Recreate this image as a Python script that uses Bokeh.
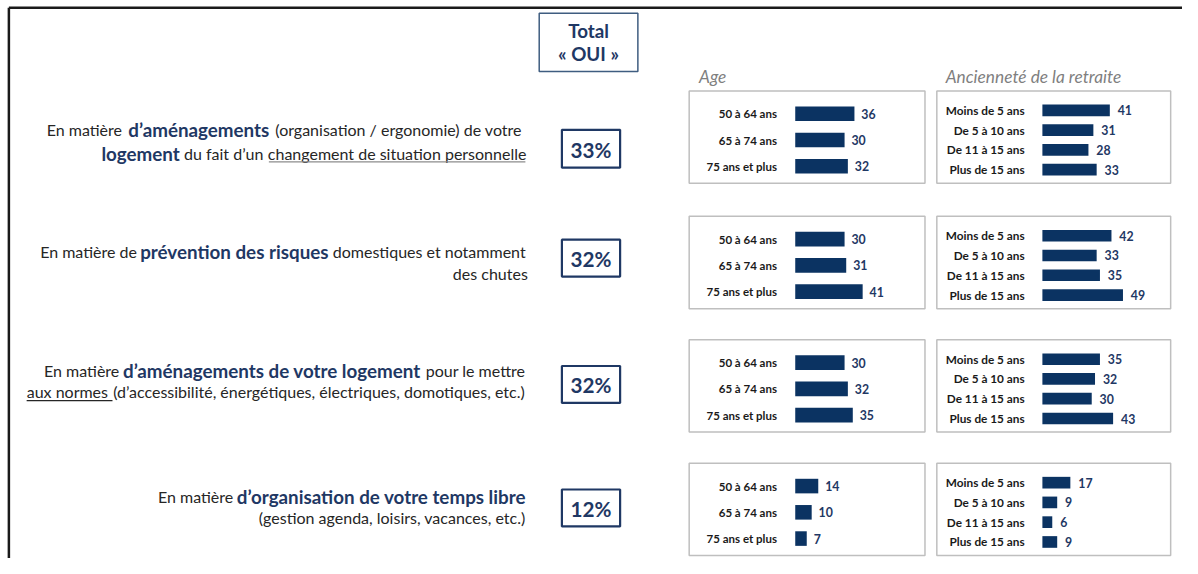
from bokeh.plotting import figure
from bokeh.models import Range1d, ColumnDataSource
from bokeh.core.properties import value
from bokeh.embed import file_html
from bokeh.resources import INLINE

# ---------------- data ----------------
age_groups = ["50 à 64 ans", "65 à 74 ans", "75 ans et plus"]
retirement_groups = ["Moins de 5 ans", "De 5 à 10 ans", "De 11 à 15 ans", "Plus de 15 ans"]
total_oui = [33, 32, 32, 12]
age_row1 = [36, 30, 32]
age_row2 = [30, 31, 41]
age_row3 = [30, 32, 35]
age_row4 = [14, 10, 7]
ret_row1 = [41, 31, 28, 33]
ret_row2 = [42, 33, 35, 49]
ret_row3 = [35, 32, 30, 43]
ret_row4 = [17, 9, 6, 9]
age_values = [age_row1, age_row2, age_row3, age_row4]
ret_values = [ret_row1, ret_row2, ret_row3, ret_row4]

# question texts: lines of (segment, emphasised?, underline style)
questions = [
    [[("En matière", 0, 0), ("d’aménagements", 1, 0), ("(organisation / ergonomie) de votre", 0, 0)],
     [("logement", 1, 0), ("du fait d’un", 0, 0), ("changement de situation personnelle", 0, 1)]],
    [[("En matière de", 0, 0), ("prévention des risques", 1, 0), ("domestiques et notamment", 0, 0)],
     [("des chutes", 0, 0)]],
    [[("En matière", 0, 0), ("d’aménagements de votre logement", 1, 0), ("pour le mettre", 0, 0)],
     [("aux normes", 0, 2), ("(d’accessibilité, énergétiques, électriques, domotiques, etc.)", 0, 0)]],
    [[("En matière", 0, 0), ("d’organisation de votre temps libre", 1, 0)],
     [("(gestion agenda, loisirs, vacances, etc.)", 0, 0)]],
]

# ---------------- layout (reference pixels) ----------------
seg_span = [
    [[(49, 121), (131, 271), (275, 532)], [(104, 180), (184.5, 268), (272, 532)]],
    [[(41, 137.5), (142, 332), (337, 532)], [(461, 532)]],
    [[(45.5, 119), (125, 425), (431, 532)], [(26.5, 109, 113.5), (113.5, 532)]],
    [[(160, 235.5), (240, 532)], [(262, 532)]],
]
line_y = [[133, 157], [258, 281], [381, 402.5], [510, 532]]
pct_box_y = [(133, 172), (246, 284), (376, 414), (503, 541)]
row_tops = [93, 222, 349, 476]
PANEL_H = 95
AGE_X0, AGE_X1 = 698, 937
RET_X0, RET_X1 = 949, 1186
AGE_BAR0, RET_BAR0 = 805.5, 1056
AGE_LAB, RET_LAB = 787, 1038
PX_PER_PT = 5 / 3
age_off = [23.5, 50.5, 77.5]
ret_off = [20, 40.3, 60.6, 81]

BAR = "#0b3362"
NAVY = "#1f3864"
TXT = "#262626"
FONT = value("Lato")

p = figure(width=1182, height=558, x_range=Range1d(0, 1198), y_range=Range1d(574, 0),
           output_backend="svg", toolbar_location=None, min_border=0,
           x_axis_location=None, y_axis_location=None)
p.grid.visible = False
p.outline_line_color = None
p.background_fill_color = "white"

# outer frame
p.segment(x0=[8.5, 8.5], y0=[7.5, 7.5], x1=[1198, 8.5], y1=[7.5, 574], line_color="#1a1a1a", line_width=2.5)

# Total box
p.quad(left=[546], right=[646], top=[13], bottom=[73], fill_color=None, line_color="#3f5d80", line_width=1.5)
p.text(x=[596, 596], y=[31, 55], text=["Total", "« OUI »"], text_font=FONT, text_font_style="bold",
       text_font_size="18.8px", text_color=NAVY, text_align="center", text_baseline="middle")

# titles
p.text(x=[708, 958], y=[78, 78], text=["Age", "Ancienneté de la retraite"], text_font=FONT,
       text_font_style="italic", text_font_size="17.3px", text_color="#7f7f7f", text_baseline="middle")

for r in range(4):
    # question text
    for li, line in enumerate(questions[r]):
        for si, (seg, emph, und) in enumerate(line):
            span = seg_span[r][li][si]
            x0, x1 = span[0], span[1]
            y = line_y[r][li]
            p.text(x=[(x0 + x1) / 2], y=[y], text=[seg], text_font=FONT,
                   text_font_size="18.8px" if emph else "16px",
                   text_font_style="bold" if emph else "normal",
                   text_color=NAVY if emph else TXT, text_baseline="middle",
                   text_align="center")
            if und:
                ux1 = span[2] if len(span) > 2 else x1
                p.segment(x0=[x0], x1=[ux1], y0=[y + 9], y1=[y + 9],
                          line_color="#8c8c8c" if und == 1 else TXT, line_width=1.2)
    # total % box
    b0, b1 = pct_box_y[r]
    p.quad(left=[569], right=[628], top=[b0], bottom=[b1], fill_color=None, line_color=NAVY, line_width=2.2)
    p.text(x=[598.5], y=[(b0 + b1) / 2 + 1], text=[f"{total_oui[r]}%"], text_font=FONT, text_font_style="bold",
           text_font_size="20.7px", text_color=NAVY, text_align="center", text_baseline="middle")

    top = row_tops[r]
    # panels
    p.quad(left=[AGE_X0, RET_X0], right=[AGE_X1, RET_X1], top=[top, top], bottom=[top + PANEL_H] * 2,
           fill_color=None, line_color="#bfbfbf", line_width=1.5)

    # age bars
    ay = [top + o for o in age_off]
    ends = [AGE_BAR0 + v * PX_PER_PT for v in age_values[r]]
    src = ColumnDataSource(dict(y=ay, right=ends, lab=age_groups,
                                vx=[e + 7 for e in ends], vt=[str(v) for v in age_values[r]]))
    p.hbar(y="y", left=AGE_BAR0, right="right", height=15, source=src, fill_color=BAR, line_color=None)
    p.text(x=AGE_LAB, y="y", text="lab", source=src, text_font=FONT, text_font_style="bold",
           text_font_size="11.5px", text_color="#1a1a1a", text_align="right", text_baseline="middle")
    p.text(x="vx", y="y", text="vt", source=src, text_font=FONT, text_font_style="bold",
           text_font_size="12.3px", text_color=NAVY, text_align="left", text_baseline="middle")

    # retirement bars
    ry = [top + o for o in ret_off]
    ends = [RET_BAR0 + v * PX_PER_PT for v in ret_values[r]]
    src = ColumnDataSource(dict(y=ry, right=ends, lab=retirement_groups,
                                vx=[e + 8 for e in ends], vt=[str(v) for v in ret_values[r]]))
    p.hbar(y="y", left=RET_BAR0, right="right", height=12, source=src, fill_color=BAR, line_color=None)
    p.text(x=RET_LAB, y="y", text="lab", source=src, text_font=FONT, text_font_style="bold",
           text_font_size="11.8px", text_color="#1a1a1a", text_align="right", text_baseline="middle")
    p.text(x="vx", y="y", text="vt", source=src, text_font=FONT, text_font_style="bold",
           text_font_size="12.3px", text_color=NAVY, text_align="left", text_baseline="middle")

open("out.html", "w").write(file_html(p, INLINE))
